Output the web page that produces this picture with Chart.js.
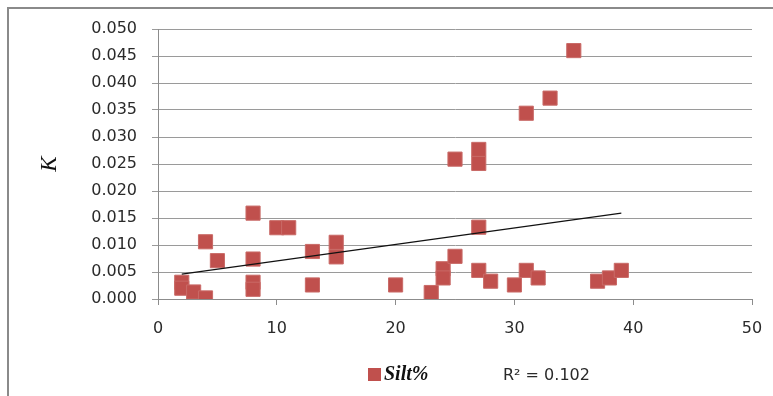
<!DOCTYPE html>
<html lang="en">

<head>
    <meta charset="UTF-8">
    <title>K vs Silt%</title>
    <style>
        html, body { margin: 0; padding: 0; background: #fff; }
        #wrap { width: 773px; height: 396px; }
    </style>
</head>

<body>
    <div id="wrap">
        <canvas id="myChart" width="773" height="396"></canvas>
    </div>

    <script src="https://cdn.jsdelivr.net/npm/chart.js@4.4.0/dist/chart.umd.min.js"></script>

    <script>
        // Silt% (x) and K (y)
        var siltX = [2, 2, 3, 4, 4, 5, 8, 8, 8, 8, 10, 11, 13, 13, 15, 15, 20, 23, 24, 24,
            25, 25, 27, 27, 27, 27, 28, 30, 31, 31, 32, 33, 35, 37, 38, 39];
        var kY = [0.0031, 0.0020, 0.0013, 0.0002, 0.0106, 0.0071, 0.0159, 0.0074, 0.0031, 0.0018,
            0.0132, 0.0132, 0.0088, 0.0026, 0.0105, 0.0078, 0.0026, 0.0012, 0.0056, 0.0039,
            0.0259, 0.0079, 0.0277, 0.0251, 0.0133, 0.0053, 0.0033, 0.0026, 0.0344, 0.0053,
            0.0039, 0.0372, 0.0460, 0.0033, 0.0039, 0.0053];

        // linear trendline ends, as drawn
        var trendX = [2, 39];
        var trendY = [0.0046, 0.0159];

        var seriesLabel = "Silt%";
        var r2Label = "R\u00b2 = 0.102";

        var xTicks = [0, 10, 20, 30, 40, 50];
        var yTicks = [0, 0.005, 0.010, 0.015, 0.020, 0.025, 0.030, 0.035, 0.040, 0.045, 0.050];

        var red = "#C0504D";
        var textColor = "#2a2a2a";

        var points = siltX.map(function (x, i) { return { x: x, y: kY[i] }; });
        var trend = trendX.map(function (x, i) { return { x: x, y: trendY[i] }; });

        // frame lines + legend drawn by hand (Excel style)
        var framePlugin = {
            id: "frame",
            beforeDraw: function (chart) {
                var ctx = chart.ctx;
                ctx.save();
                ctx.fillStyle = "#fff";
                ctx.fillRect(0, 0, chart.width, chart.height);
                ctx.strokeStyle = "#8a8a8a";
                ctx.lineWidth = 2;
                ctx.beginPath();
                ctx.moveTo(8, chart.height);
                ctx.lineTo(8, 8);
                ctx.lineTo(chart.width, 8);
                ctx.stroke();
                ctx.restore();
            },
            afterDraw: function (chart) {
                var ctx = chart.ctx;
                ctx.save();
                ctx.fillStyle = red;
                ctx.fillRect(368, 368, 13, 13);
                ctx.fillStyle = "#111";
                ctx.textBaseline = "middle";
                ctx.font = "italic bold 20px 'Liberation Serif'";
                ctx.fillText(seriesLabel, 384, 375);
                ctx.fillStyle = textColor;
                ctx.font = "16px 'DejaVu Sans'";
                ctx.fillText(r2Label, 503, 376);
                ctx.restore();
            }
        };

        var ctx = document.getElementById("myChart").getContext("2d");
        var chart = new Chart(ctx, {
            type: "scatter",
            data: {
                datasets: [
                    {
                        label: "trend",
                        type: "line",
                        data: trend,
                        borderColor: "#111",
                        borderWidth: 1.2,
                        pointRadius: 0,
                        fill: false,
                        order: 0
                    },
                    {
                        label: seriesLabel,
                        data: points,
                        pointStyle: "rect",
                        pointRadius: 10,
                        pointHoverRadius: 10,
                        backgroundColor: red,
                        borderColor: "#c96a67",
                        borderWidth: 1,
                        order: 1
                    }
                ]
            },
            options: {
                responsive: false,
                animation: false,
                layout: { padding: { left: 10, right: 21, top: 29, bottom: 0 } },
                plugins: {
                    legend: { display: false },
                    tooltip: { enabled: false }
                },
                scales: {
                    x: {
                        type: "linear",
                        min: 0,
                        max: 50,
                        afterBuildTicks: function (scale) {
                            scale.ticks = xTicks.map(function (v) { return { value: v }; });
                        },
                        afterFit: function (scale) {
                            scale.height = 97;
                            scale.paddingLeft = 0;
                            scale.paddingRight = 0;
                        },
                        grid: {
                            drawOnChartArea: false,
                            drawTicks: true,
                            tickLength: 6,
                            color: "#8c8c8c"
                        },
                        border: { color: "#8c8c8c", width: 1 },
                        ticks: {
                            padding: 14,
                            color: textColor,
                            font: { family: "'DejaVu Sans'", size: 16 }
                        }
                    },
                    y: {
                        type: "linear",
                        min: 0,
                        max: 0.05,
                        afterBuildTicks: function (scale) {
                            scale.ticks = yTicks.map(function (v) { return { value: v }; });
                        },
                        afterFit: function (scale) {
                            scale.width = 148;
                            scale.paddingTop = 0;
                            scale.paddingBottom = 0;
                        },
                        grid: {
                            color: "#9a9a9a",
                            tickLength: 6
                        },
                        border: { color: "#8c8c8c", width: 1 },
                        ticks: {
                            padding: 15,
                            color: textColor,
                            font: { family: "'DejaVu Sans'", size: 16 },
                            callback: function (v) { return v.toFixed(3); }
                        },
                        title: {
                            display: true,
                            text: "K",
                            color: "#111",
                            font: { family: "'Liberation Serif'", style: "italic", size: 23 },
                            padding: { top: 26, bottom: 0 }
                        }
                    }
                }
            },
            plugins: [framePlugin]
        });
    </script>

</body>

</html>
